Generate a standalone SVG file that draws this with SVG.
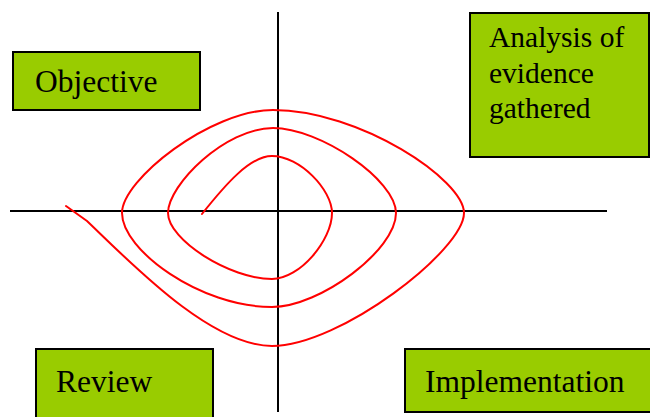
<svg xmlns="http://www.w3.org/2000/svg" width="650" height="417" viewBox="0 0 650 417">
<style>
.box{fill:#99cc00;stroke:#000;stroke-width:2}
.lbl{font-family:"Liberation Serif","Times New Roman",serif;font-size:31.5px;fill:#000}
.lbl2{font-family:"Liberation Serif","Times New Roman",serif;font-size:29.5px;fill:#000}
.axis{stroke:#000;stroke-width:2;fill:none}
.spiral{stroke:#ff0000;stroke-width:2;fill:none;stroke-linejoin:round;stroke-linecap:round}
</style>
<rect width="650" height="417" fill="#fff"/>
<g id="connectors">
<line class="axis" x1="278" y1="12" x2="278" y2="412"/>
<line class="axis" x1="10" y1="211" x2="607" y2="211"/>
<path class="spiral" d="M202,214 C225,185 250,156 272,156 C300,156 332,190 332,213 C332,240 300,279 272,279 C230,279 168,240 168,213 C168,185 225,128 273,128 C320,128 396,180 396,213 C396,250 320,307 272,307 C200,307 122,250 122,213 C122,180 210,110 273,110 C360,110 464,180 464,213 C464,250 340,346 272,346 C210,346 130,262 87,221 L66,206"/>
</g>
<g id="objective">
<rect class="box" x="13" y="52" width="187" height="58"/>
<text class="lbl" x="35" y="92">Objective</text>
</g>
<g id="analysis">
<rect class="box" x="470" y="13" width="179" height="144"/>
<text class="lbl2" x="489" y="47">Analysis of</text>
<text class="lbl2" x="489" y="83">evidence</text>
<text class="lbl2" x="489" y="118">gathered</text>
</g>
<g id="review">
<rect class="box" x="36" y="349" width="177" height="80"/>
<text class="lbl" x="56" y="392">Review</text>
</g>
<g id="implementation">
<rect class="box" x="405" y="349" width="260" height="63"/>
<text class="lbl" x="425" y="392">Implementation</text>
</g>
</svg>
